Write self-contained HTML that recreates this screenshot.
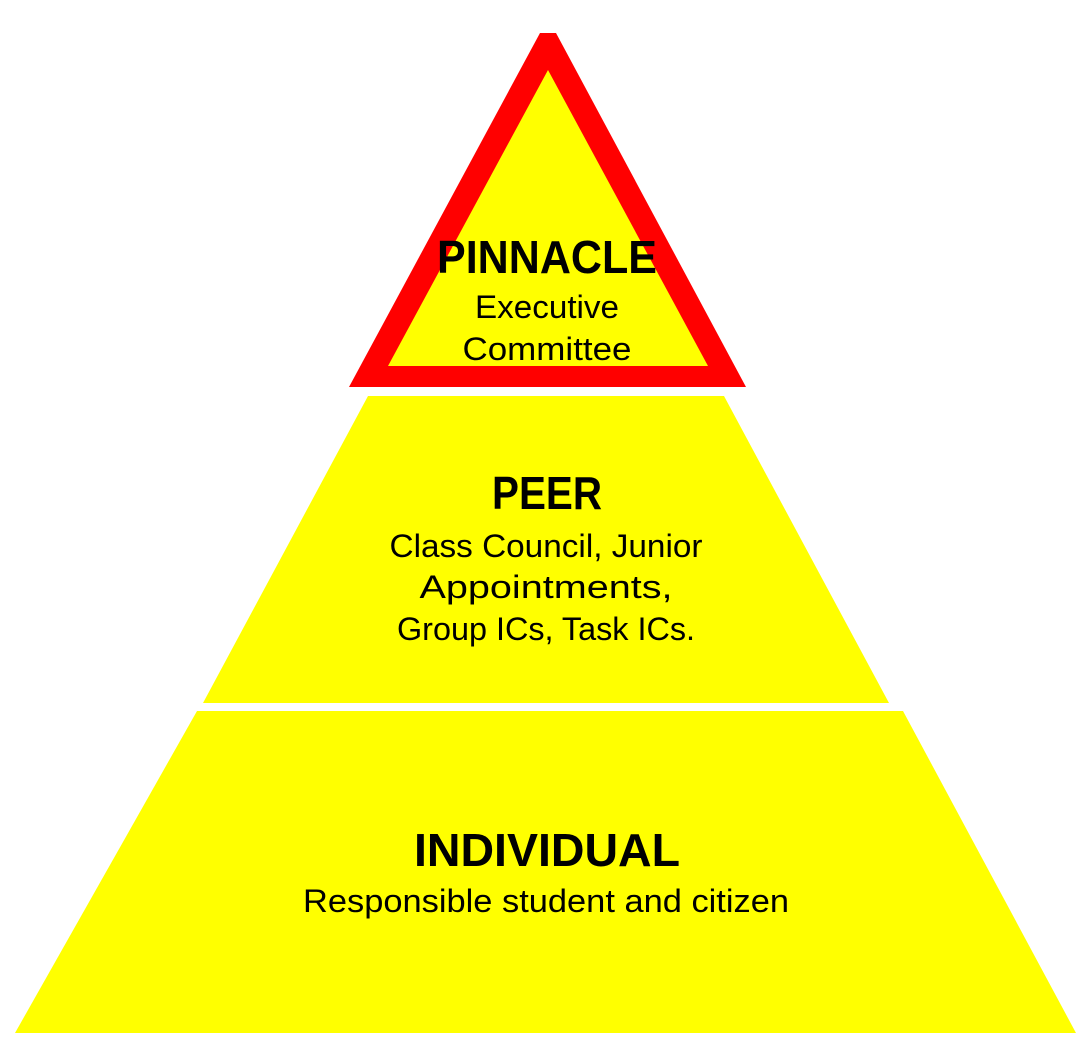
<!DOCTYPE html>
<html><head><meta charset="utf-8"><style>
html,body{margin:0;padding:0;background:#fff;}
svg{display:block;}
text{font-family:"Liberation Sans",sans-serif;fill:#000;text-anchor:middle;}
.b{font-weight:bold;font-size:46px;}
.n{font-size:32px;}
</style></head><body>
<svg width="1086" height="1058" viewBox="0 0 1086 1058">
<rect width="1086" height="1058" fill="#fff"/>
<polygon points="15,1033 1076,1033 903,711 197,711" fill="#ffff00"/>
<polygon points="203,703 889,703 724,396 368,396" fill="#ffff00"/>
<polygon points="540,33 556,33 746,387 349,387" fill="#ff0000"/>
<polygon points="548,70 708,366 388,366" fill="#ffff00"/>
<text class="b" x="547" y="273" textLength="220" lengthAdjust="spacingAndGlyphs">PINNACLE</text>
<text class="n" x="547" y="318" textLength="144" lengthAdjust="spacingAndGlyphs">Executive</text>
<text class="n" x="547" y="360" textLength="169" lengthAdjust="spacingAndGlyphs">Committee</text>
<text class="b" x="547" y="509" textLength="110" lengthAdjust="spacingAndGlyphs">PEER</text>
<text class="n" x="546" y="557" textLength="313" lengthAdjust="spacingAndGlyphs">Class Council, Junior</text>
<text class="n" x="546" y="598" textLength="253" lengthAdjust="spacingAndGlyphs">Appointments,</text>
<text class="n" x="546" y="640" textLength="298" lengthAdjust="spacingAndGlyphs">Group ICs, Task ICs.</text>
<text class="b" x="547" y="866" textLength="266" lengthAdjust="spacingAndGlyphs">INDIVIDUAL</text>
<text class="n" x="546" y="912" textLength="486" lengthAdjust="spacingAndGlyphs">Responsible student and citizen</text>
</svg>
</body></html>
